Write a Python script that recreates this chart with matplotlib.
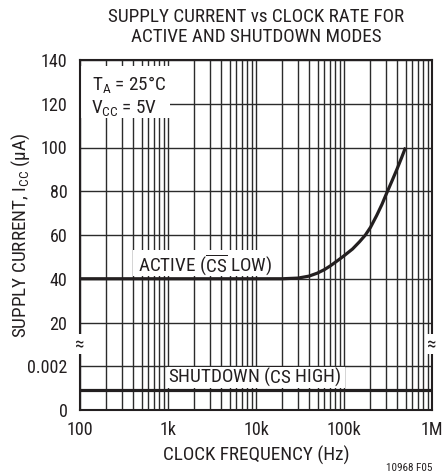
import numpy as np
import matplotlib
matplotlib.use("Agg")
import matplotlib.pyplot as plt
from matplotlib.patches import Rectangle
from matplotlib import font_manager as fm

# ---- data ----
freq_active = [100, 1000, 10000, 20000, 30000, 40000, 50000, 60000, 70000, 80000, 90000,
               100000, 125000, 150000, 175000, 200000, 235000, 270000, 300000, 350000,
               400000, 450000, 500000]
i_active = [40, 40, 40, 40, 40.3, 41.2, 42.6, 44.2, 45.9, 47.6, 49.1,
            50.5, 53.6, 56.9, 60.0, 63.5, 68.9, 74.0, 78.4, 84.6,
            90.1, 95.2, 100]
freq_shutdown = [100, 1000000]
i_shutdown = [0.0009, 0.0009]
x_ticks = [100, 1000, 10000, 100000, 1000000]
x_ticklabels = ["100", "1k", "10k", "100k", "1M"]
y_ticks = [0, 0.002, 20, 40, 60, 80, 100, 120, 140]
y_ticklabels = ["0", "0.002", "20", "40", "60", "80", "100", "120", "140"]

# pick a narrow sans font if one is installed
FONT, STRETCH = "Liberation Sans", "normal"
cands = []
for f in fm.fontManager.ttflist:
    if f.style != "normal" or f.weight not in (400, "normal", "regular"):
        continue
    nm = f.name
    if "Narrow" in nm or "Condensed" in nm:
        cands.append((0, nm, "normal"))
    elif f.stretch in ("condensed", "semi-condensed", 400, 62.5) or str(f.stretch).startswith("semi-cond"):
        cands.append((1, nm, f.stretch))
if cands:
    cands.sort(key=lambda c: (c[0], "Liberation" not in c[1], "Roboto" not in c[1]))
    FONT, STRETCH = cands[0][1], cands[0][2]

plt.rcParams["font.family"] = [FONT, "DejaVu Sans"]
plt.rcParams["font.stretch"] = STRETCH
pat = FONT if STRETCH == "normal" else f"{FONT}:stretch={STRETCH}"
plt.rcParams["mathtext.fontset"] = "custom"
plt.rcParams["mathtext.rm"] = pat
plt.rcParams["mathtext.it"] = pat
plt.rcParams["mathtext.bf"] = pat

narrow = FONT != "Liberation Sans"
FS = 13.8 if narrow else 11.5
FT = 13.0 if narrow else 11.2

TXT = "#231f20"
GRID = "#2b2b2b"

# broken y scale: knots value -> position
kv = np.array([0.0, 0.0025, 15.0, 140.0])
kp = np.array([0.0, 1.25, 1.75, 8.0])
def fwd(v):
    return np.interp(v, kv, kp)
def inv(p):
    return np.interp(p, kp, kv)

fig = plt.figure(figsize=(4.47, 4.75), dpi=100)
ax = fig.add_axes([80/447, 65/475, 352/447, 350/475])
ax.set_xscale("log")
ax.set_yscale("function", functions=(fwd, inv))
ax.set_xlim(100, 1e6)
ax.set_ylim(0, 140)

ax.set_axisbelow(True)
ax.xaxis.set_major_locator(matplotlib.ticker.FixedLocator(x_ticks))
ax.xaxis.set_minor_locator(matplotlib.ticker.LogLocator(base=10, subs=np.arange(2, 10)))
ax.xaxis.set_minor_formatter(matplotlib.ticker.NullFormatter())
ax.set_xticklabels(x_ticklabels)
ax.set_yticks(y_ticks)
ax.yaxis.set_minor_locator(matplotlib.ticker.NullLocator())
ax.set_yticklabels(y_ticklabels)
ax.grid(True, which="both", axis="x", color=GRID, lw=1.0)
ax.grid(True, which="major", axis="y", color=GRID, lw=1.0)
ax.tick_params(which="both", length=0, labelsize=FT, colors=TXT, pad=8)
ax.tick_params(axis="y", pad=9)
for s in ax.spines.values():
    s.set_linewidth(1.5)
    s.set_color(TXT)

ax.plot(freq_active, i_active, color=TXT, lw=2.3, solid_capstyle="butt", zorder=4)
ax.plot(freq_shutdown, i_shutdown, color=TXT, lw=2.3, solid_capstyle="butt", zorder=4)

H = 350.0
W = 352.0
def px_rect(x0, y0, x1, y1):
    return Rectangle(((x0 - 80) / W, (410 - y1) / H), (x1 - x0) / W, (y1 - y0) / H,
                     transform=ax.transAxes, facecolor="white", edgecolor="none", zorder=2)

ax.add_patch(px_rect(81, 66, 170, 118))
ax.add_patch(px_rect(133, 250, 281, 276))
ax.add_patch(px_rect(167, 367, 345, 388))

ax.text((92 - 80) / W, (410 - 90) / H, r"T$_{\mathrm{A}}$ = 25°C", transform=ax.transAxes,
        fontsize=FS, color=TXT, ha="left", va="baseline", zorder=3)
ax.text((91 - 80) / W, (410 - 113) / H, r"V$_{\mathrm{CC}}$ = 5V", transform=ax.transAxes,
        fontsize=FS, color=TXT, ha="left", va="baseline", zorder=3)
ax.text((138 - 80) / W, (410 - 272) / H, r"ACTIVE ($\overline{\mathrm{CS}}$ LOW)", transform=ax.transAxes,
        fontsize=FS, color=TXT, ha="left", va="baseline", zorder=3)
ax.text((168 - 80) / W, (410 - 383) / H, r"SHUTDOWN ($\overline{\mathrm{CS}}$ HIGH)", transform=ax.transAxes,
        fontsize=FS, color=TXT, ha="left", va="baseline", zorder=3)

for xa in (0, 1):
    ax.text(xa, 1.5 / 8, "≈", transform=ax.transAxes, fontsize=FS, color=TXT,
            ha="center", va="center", zorder=5, clip_on=False,
            bbox=dict(boxstyle="square,pad=0.05", fc="white", ec="none"))

ax.set_xlabel("CLOCK FREQUENCY (Hz)", fontsize=FS, color=TXT)
ax.xaxis.set_label_coords(0.5, -(455 - 410) / H)
ax.xaxis.label.set_va("center")
ax.set_ylabel(r"SUPPLY CURRENT, I$_{\mathrm{CC}}$ (µA)", fontsize=FS, color=TXT)
ax.yaxis.set_label_coords(-(80 - 21) / W, 0.5)
ax.yaxis.label.set_va("center")

fig.text(256 / 447, 1 - 27 / 475, "SUPPLY CURRENT vs CLOCK RATE FOR\nACTIVE AND SHUTDOWN MODES",
         ha="center", va="center", fontsize=FS, color=TXT, linespacing=1.2)
fig.text(432 / 447, 1 - 468 / 475, "10968 F05", ha="right", va="center", fontsize=8, color=TXT)

fig.savefig("out.png", dpi=100)
